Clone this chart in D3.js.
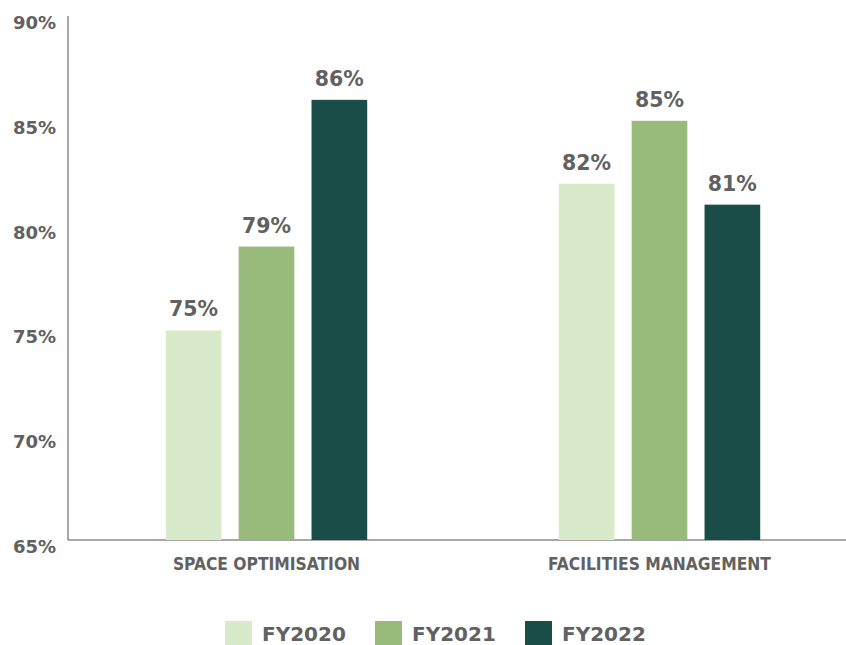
<!DOCTYPE html>
<html>
<head>
<meta charset="utf-8">
<script src="https://cdn.jsdelivr.net/npm/d3@7"></script>
<style>
  body { margin: 0; background: #fff; }
  text { font-family: "DejaVu Sans", sans-serif; font-weight: bold; fill: #616161; }
  text.cat { font-family: "DejaVu Sans Condensed", "DejaVu Sans", sans-serif; font-stretch: condensed; }
</style>
</head>
<body>
<div id="app"></div>
<script>
// ---------- Data ----------
const categories = ["SPACE OPTIMISATION", "FACILITIES MANAGEMENT"];
const seriesNames = ["FY2020", "FY2021", "FY2022"];
const fy2020 = [75, 82];
const fy2021 = [79, 85];
const fy2022 = [86, 81];
const yTicks = [65, 70, 75, 80, 85, 90];
const colors = ["#d9eacb", "#98bb7c", "#1a4d48"];

// ---------- Layout ----------
const WIDTH = 846, HEIGHT = 645;
const AXIS_X = 68, AXIS_TOP = 16, AXIS_BOTTOM = 540;

const svg = d3.select("#app").append("svg")
  .attr("width", WIDTH)
  .attr("height", HEIGHT);

const seriesValues = [fy2020, fy2021, fy2022];

const y = d3.scaleLinear().domain([65, 90]).range([AXIS_BOTTOM, AXIS_TOP]);
const x0 = d3.scaleBand().domain(categories).range([AXIS_X + 2, 856]).paddingInner(0).paddingOuter(0);
const x1 = d3.scaleBand().domain(seriesNames).range([-108, 108]).paddingInner(0.236).paddingOuter(0.1);

// axes lines
svg.append("line")
  .attr("x1", AXIS_X).attr("x2", AXIS_X)
  .attr("y1", AXIS_TOP).attr("y2", AXIS_BOTTOM)
  .attr("stroke", "#8a8a8a").attr("stroke-width", 1.5);
svg.append("line")
  .attr("x1", AXIS_X).attr("x2", WIDTH)
  .attr("y1", AXIS_BOTTOM).attr("y2", AXIS_BOTTOM)
  .attr("stroke", "#8a8a8a").attr("stroke-width", 1.5);

// y tick labels
svg.append("g").selectAll("text")
  .data(yTicks)
  .enter().append("text")
  .attr("x", 56)
  .attr("y", d => y(d) + 13)
  .attr("text-anchor", "end")
  .style("font-size", "18px")
  .text(d => d + "%");

// bars
const groups = svg.append("g").selectAll("g")
  .data(categories)
  .enter().append("g")
  .attr("transform", d => `translate(${x0(d) + x0.bandwidth() / 2}, 0)`);

groups.each(function(cat, ci) {
  const g = d3.select(this);
  seriesNames.forEach((s, si) => {
    const v = seriesValues[si][ci];
    g.append("rect")
      .attr("x", x1(s))
      .attr("y", y(v))
      .attr("width", x1.bandwidth())
      .attr("height", AXIS_BOTTOM - y(v))
      .attr("fill", colors[si]);
    g.append("text")
      .attr("x", x1(s) + x1.bandwidth() / 2)
      .attr("y", y(v) - 14)
      .attr("text-anchor", "middle")
      .style("font-size", "20.5px")
      .text(v + "%");
  });
  g.append("text")
    .attr("class", "cat")
    .attr("x", 0)
    .attr("y", 570)
    .attr("text-anchor", "middle")
    .style("font-size", "17.3px")
    .text(cat);
});

// legend
const legendX = [225, 375, 525];
const legend = svg.append("g").selectAll("g")
  .data(seriesNames)
  .enter().append("g")
  .attr("transform", (d, i) => `translate(${legendX[i]}, 621)`);
legend.append("rect")
  .attr("width", 27).attr("height", 24)
  .attr("fill", (d, i) => colors[i]);
legend.append("text")
  .attr("x", 37).attr("y", 19.5)
  .style("font-size", "20px")
  .text(d => d);
</script>
</body>
</html>
